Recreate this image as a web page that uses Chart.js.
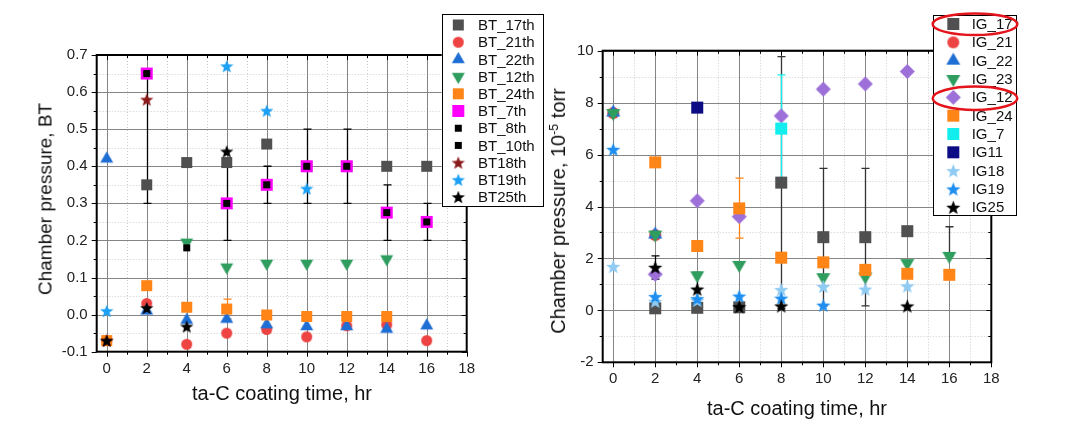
<!DOCTYPE html>
<html><head><meta charset="utf-8">
<script src="https://cdn.jsdelivr.net/npm/chart.js@4.4.1/dist/chart.umd.min.js"></script>
<style>
html,body{margin:0;padding:0;background:#fff;}
body{width:1074px;height:438px;overflow:hidden;position:relative;font-family:"Liberation Sans",Arial,sans-serif;}
canvas{position:absolute;top:0;}
#c1{left:0;width:550px;height:438px;}
#c2{left:550px;width:524px;height:438px;}
.t{position:absolute;white-space:nowrap;color:#111;transform:translate(-50%,-50%);line-height:1;}
.r{transform:translate(-50%,-50%) rotate(-90deg);}
sup{font-size:0.62em;vertical-align:0.55em;line-height:0;}
</style></head><body>
<canvas id="c1" width="550" height="438"></canvas>
<canvas id="c2" width="524" height="438"></canvas>
<div class="t r" style="left:45px;top:199px;font-size:19px;">Chamber pressure, BT</div>
<div class="t" style="left:282px;top:393px;font-size:20px;">ta-C coating time, hr</div>
<div class="t r" style="left:558px;top:211px;font-size:20px;">Chamber pressure, 10<sup>-5</sup> torr</div>
<div class="t" style="left:797px;top:408px;font-size:20px;">ta-C coating time, hr</div>
<script>
// ---------- data ----------
const hours = [0, 2, 4, 6, 8, 10, 12, 14, 16];
const xTickLabels = [0, 2, 4, 6, 8, 10, 12, 14, 16, 18];
const btYTickLabels = [-0.1, 0.0, 0.1, 0.2, 0.3, 0.4, 0.5, 0.6, 0.7];
const igYTickLabels = [-2, 0, 2, 4, 6, 8, 10];

// left panel (BT)
const bt17 = [null, 0.35, 0.41, 0.41, 0.46, 0.40, 0.40, 0.40, 0.40];
const bt21 = [-0.07, 0.03, -0.08, -0.05, -0.04, -0.06, -0.03, -0.027, -0.07];
const bt22 = [0.42, 0.01, -0.015, -0.012, -0.027, -0.032, -0.032, -0.039, -0.03];
const bt12 = [null, null, 0.195, 0.128, 0.138, 0.138, 0.138, 0.15, null];
const bt24 = [-0.07, 0.078, 0.02, 0.015, -0.001, -0.005, -0.005, -0.005, null];
const bt7 = [null, 0.65, null, 0.30, 0.35, 0.40, 0.40, 0.275, 0.25];
const bt8 = [null, 0.65, null, 0.30, 0.35, 0.40, 0.40, 0.275, 0.25];
const bt10 = [null, null, 0.18, null, null, null, null, null, null];
const bt18 = [-0.07, 0.58, null, null, null, null, null, null, null];
const bt19 = [0.01, null, null, 0.67, 0.55, 0.34, null, null, null];
const bt25 = [-0.07, 0.018, -0.032, 0.44, null, null, null, null, null];
const bt8Low  = [null, 0.30, null, 0.20, 0.30, 0.30, 0.30, 0.20, 0.20];
const bt8High = [null, 0.65, null, 0.40, 0.40, 0.50, 0.50, 0.35, 0.30];
const bt24Low  = [null, null, null, -0.012, null, null, null, null, null];
const bt24High = [null, null, null, 0.042, null, null, null, null, null];

// right panel (IG)
const ig17 = [null, 0.08, 0.1, 0.12, 4.92, 2.82, 2.82, 3.05, null];
const ig21 = [7.6, 2.9, null, null, null, null, null, null, null];
const ig22 = [7.62, 2.92, null, null, null, null, null, null, null];
const ig23 = [7.6, 2.92, 1.35, 1.75, null, 1.28, 1.3, 1.82, 2.1];
const ig12 = [null, 1.39, 4.22, 3.61, 7.49, 8.52, 8.72, 9.2, null];
const ig24 = [null, 5.7, 2.48, 3.93, 2.03, 1.85, 1.56, 1.41, 1.37];
const ig7  = [null, null, null, null, 7.0, null, null, null, null];
const ig11 = [null, null, 7.81, null, null, null, null, null, null];
const ig18 = [1.69, 0.35, 0.38, null, 0.8, 0.92, 0.82, 0.94, null];
const ig19 = [6.2, 0.53, 0.45, 0.55, 0.47, 0.2, null, null, null];
const ig25 = [null, 1.66, 0.82, 0.14, 0.17, null, null, 0.17, null];
const ig17Low  = [null, null, null, null, 0.07, 0.17, 0.17, null, null];
const ig17High = [null, null, null, null, 9.77, 5.47, 5.47, null, null];
const ig24Low  = [null, null, null, 2.78, null, null, null, null, null];
const ig24High = [null, null, null, 5.09, null, null, null, null, null];
const ig7Low   = [null, null, null, null, 4.92, null, null, null, null];
const ig7High  = [null, null, null, null, 9.07, null, null, null, null];
const ig25Low  = [null, 1.2, 0.17, null, null, null, null, null, null];
const ig25High = [null, 2.1, 1.46, null, null, null, null, null, null];
const ig23Low  = [null, null, null, null, null, null, null, null, 2.1];
const ig23High = [null, null, null, null, null, null, null, null, 3.22];

// ---------- markers ----------
const FONT = '"Liberation Sans", Arial, sans-serif';
function starPath(g, cx, cy, R, r) {
  g.beginPath();
  for (let k = 0; k < 10; k++) {
    const a = -Math.PI / 2 + k * Math.PI / 5, rad = k % 2 ? r : R;
    g.lineTo(cx + rad * Math.cos(a), cy + rad * Math.sin(a));
  }
  g.closePath();
}
function mk(shape, color, s) {
  const W = Math.ceil(s + 4), c = document.createElement('canvas');
  c.width = W; c.height = W;
  const g = c.getContext('2d'), m = W / 2;
  g.fillStyle = color;
  const h = s * 0.866;
  switch (shape) {
    case 'square': g.fillRect(m - s / 2, m - s / 2, s, s); break;
    case 'circle': g.beginPath(); g.arc(m, m, s / 2, 0, Math.PI * 2); g.fill(); break;
    case 'tri': g.beginPath(); g.moveTo(m, m - h * 2 / 3); g.lineTo(m + s / 2, m + h / 3); g.lineTo(m - s / 2, m + h / 3); g.closePath(); g.fill(); break;
    case 'tridown': g.beginPath(); g.moveTo(m, m + h * 2 / 3); g.lineTo(m + s / 2, m - h / 3); g.lineTo(m - s / 2, m - h / 3); g.closePath(); g.fill(); break;
    case 'diamond': g.beginPath(); g.moveTo(m, m - s / 2); g.lineTo(m + s / 2, m); g.lineTo(m, m + s / 2); g.lineTo(m - s / 2, m); g.closePath(); g.fill(); break;
    case 'star': starPath(g, m, m + s * 0.05, s / 2, s / 2 * 0.42); g.fill(); break;
  }
  return c;
}

const btSeries = [
  {name: 'BT_17th', values: bt17, img: mk('square', '#505050', 11)},
  {name: 'BT_21th', values: bt21, img: mk('circle', '#EE4343', 11)},
  {name: 'BT_22th', values: bt22, img: mk('tri', '#1F6ED4', 13)},
  {name: 'BT_12th', values: bt12, img: mk('tridown', '#2F9D5E', 13)},
  {name: 'BT_24th', values: bt24, img: mk('square', '#FF8516', 11)},
  {name: 'BT_7th', values: bt7, img: mk('square', '#FF00FF', 12)},
  {name: 'BT_8th', values: bt8, img: mk('square', '#000000', 7)},
  {name: 'BT_10th', values: bt10, img: mk('square', '#000000', 7)},
  {name: 'BT18th', values: bt18, img: mk('star', '#8B1A1A', 14)},
  {name: 'BT19th', values: bt19, img: mk('star', '#1AA0F5', 14)},
  {name: 'BT25th', values: bt25, img: mk('star', '#000000', 14)}
];
const igSeries = [
  {name: 'IG_17', values: ig17, img: mk('square', '#505050', 12)},
  {name: 'IG_21', values: ig21, img: mk('circle', '#EE4343', 12)},
  {name: 'IG_22', values: ig22, img: mk('tri', '#1F6ED4', 14)},
  {name: 'IG_23', values: ig23, img: mk('tridown', '#2F9D5E', 14)},
  {name: 'IG_12', values: ig12, img: mk('diamond', '#9D6FD8', 15)},
  {name: 'IG_24', values: ig24, img: mk('square', '#FF8516', 12)},
  {name: 'IG_7', values: ig7, img: mk('square', '#12EEEE', 12)},
  {name: 'IG11', values: ig11, img: mk('square', '#0B0B84', 12)},
  {name: 'IG18', values: ig18, img: mk('star', '#8FCBF2', 15)},
  {name: 'IG19', values: ig19, img: mk('star', '#1E8FF0', 15)},
  {name: 'IG25', values: ig25, img: mk('star', '#000000', 15)}
];

function range(a, b, st) { const r = []; for (let v = a; v <= b + 1e-9; v += st) r.push(+v.toFixed(4)); return r; }

function decor(o) {
  return {
    id: 'decor',
    beforeDatasetsDraw(ch) {
      const c = ch.ctx, a = ch.chartArea, X = ch.scales.x, Y = ch.scales.y;
      c.save();
      c.beginPath(); c.rect(a.left, a.top, a.right - a.left, a.bottom - a.top); c.clip();
      c.lineWidth = 1;
      const vl = v => { const p = Math.round(X.getPixelForValue(v)) + 0.5; c.beginPath(); c.moveTo(p, a.top); c.lineTo(p, a.bottom); c.stroke(); };
      const hl = v => { const p = Math.round(Y.getPixelForValue(v)) + 0.5; c.beginPath(); c.moveTo(a.left, p); c.lineTo(a.right, p); c.stroke(); };
      c.strokeStyle = '#cdcdcd'; c.setLineDash([1, 2]);
      o.xMinor.forEach(vl); o.yMinor.forEach(hl);
      c.setLineDash([]); c.strokeStyle = '#858585';
      xTickLabels.forEach(vl); o.yTicks.forEach(hl);
      c.restore();
      c.save();
      o.errs.forEach(e => {
        c.strokeStyle = e.color; c.lineWidth = 1.3;
        hours.forEach((hv, k) => {
          if (e.low[k] == null) return;
          const px = Math.round(X.getPixelForValue(hv)) + 0.5;
          const p1 = Y.getPixelForValue(e.low[k]), p2 = Y.getPixelForValue(e.high[k]);
          c.beginPath(); c.moveTo(px, p1); c.lineTo(px, p2);
          c.moveTo(px - 4, p1); c.lineTo(px + 4, p1);
          c.moveTo(px - 4, p2); c.lineTo(px + 4, p2);
          c.stroke();
        });
      });
      c.restore();
    },
    afterDatasetsDraw(ch) {
      const c = ch.ctx, a = ch.chartArea, X = ch.scales.x, Y = ch.scales.y;
      c.save();
      c.strokeStyle = '#000'; c.lineWidth = 1;
      c.beginPath();
      const xmaj = xTickLabels, xmin = o.xMinor;
      xmaj.forEach(v => { const p = Math.round(X.getPixelForValue(v)) + 0.5;
        c.moveTo(p, a.bottom); c.lineTo(p, a.bottom + 5); c.moveTo(p, a.top); c.lineTo(p, a.top + 5); });
      xmin.forEach(v => { const p = Math.round(X.getPixelForValue(v)) + 0.5;
        c.moveTo(p, a.bottom); c.lineTo(p, a.bottom + 3); c.moveTo(p, a.top); c.lineTo(p, a.top + 3); });
      o.yTicks.forEach(v => { const p = Math.round(Y.getPixelForValue(v)) + 0.5;
        c.moveTo(a.left, p); c.lineTo(a.left - 5, p); c.moveTo(a.right, p); c.lineTo(a.right - 5, p); });
      o.yMinor.forEach(v => { const p = Math.round(Y.getPixelForValue(v)) + 0.5;
        c.moveTo(a.left, p); c.lineTo(a.left - 3, p); c.moveTo(a.right, p); c.lineTo(a.right - 3, p); });
      c.stroke();
      c.lineWidth = 2;
      c.strokeRect(a.left, a.top, a.right - a.left, a.bottom - a.top);
      c.restore();
    },
    afterDraw(ch) {
      const c = ch.ctx, L = o.legend;
      c.save();
      c.fillStyle = '#fff';
      c.fillRect(L.x0, L.y0, L.x1 - L.x0, L.y1 - L.y0);
      c.strokeStyle = '#000'; c.lineWidth = 1;
      c.strokeRect(Math.round(L.x0) + 0.5, Math.round(L.y0) + 0.5, Math.round(L.x1 - L.x0), Math.round(L.y1 - L.y0));
      c.font = '15px ' + FONT; c.textBaseline = 'middle'; c.fillStyle = '#111';
      o.series.forEach((s, i) => {
        const y = L.rowY + i * L.dy;
        c.drawImage(s.img, L.mx - s.img.width / 2, y - s.img.height / 2);
        c.fillText(s.name, L.tx, y + 1);
      });
      if (L.ellipses) {
        c.strokeStyle = '#E3141B'; c.lineWidth = 2.5;
        L.ellipses.forEach(e => { c.beginPath(); c.ellipse(e[0], e[1], e[2], e[3], 0, 0, Math.PI * 2); c.stroke(); });
      }
      c.restore();
    }
  };
}

function makeChart(id, o) {
  const datasets = o.series.map((s, i) => ({
    label: s.name,
    data: hours.map((x, k) => s.values[k] == null ? null : {x: x, y: s.values[k]}).filter(p => p),
    pointStyle: s.img, pointRadius: 6, pointHoverRadius: 6,
    showLine: false, order: -i
  }));
  return new Chart(document.getElementById(id), {
    type: 'scatter',
    data: {datasets},
    options: {
      responsive: false, animation: false, events: [],
      layout: {padding: {left: 0, top: o.area.top, right: o.W - o.area.right, bottom: 0}},
      plugins: {legend: {display: false}, tooltip: {enabled: false}},
      scales: {
        x: {
          type: 'linear', min: -0.5, max: 18,
          grid: {display: false, drawTicks: false}, border: {display: false},
          afterFit: s => { s.height = o.H - o.area.bottom; },
          afterBuildTicks: s => { s.ticks = xTickLabels.map(v => ({value: v})); },
          ticks: {padding: o.xPad, color: '#222', font: {family: FONT, size: 15}, maxRotation: 0, autoSkip: false,
                  callback: v => String(v)}
        },
        y: {
          type: 'linear', min: o.yMin, max: o.yMax,
          grid: {display: false, drawTicks: false}, border: {display: false},
          afterFit: s => { s.width = o.area.left; },
          afterBuildTicks: s => { s.ticks = o.yTicks.map(v => ({value: v})); },
          ticks: {padding: o.yPad, color: '#222', font: {family: FONT, size: 15}, autoSkip: false,
                  callback: o.yFmt}
        }
      }
    },
    plugins: [decor(o)]
  });
}

makeChart('c1', {
  W: 550, H: 438,
  area: {left: 96.7, right: 466.7, top: 55, bottom: 351.7},
  yMin: -0.1, yMax: 0.7, yTicks: btYTickLabels, yMinor: range(-0.05, 0.65, 0.1), xMinor: range(1, 17, 2),
  yFmt: v => v.toFixed(1), xPad: 8, yPad: 9,
  series: btSeries,
  errs: [
    {low: bt8Low, high: bt8High, color: '#000'},
    {low: bt24Low, high: bt24High, color: '#FF8516'}
  ],
  legend: {x0: 441.7, y0: 14, x1: 543, y1: 206, rowY: 25, dy: 17.2, mx: 458.3, tx: 478}
});

makeChart('c2', {
  W: 524, H: 438,
  area: {left: 52.7, right: 441.3, top: 50.7, bottom: 362.3},
  yMin: -2, yMax: 10, yTicks: igYTickLabels, yMinor: range(-1, 9, 2), xMinor: range(1, 17, 2),
  yFmt: v => String(v), xPad: 8, yPad: 9,
  series: igSeries,
  errs: [
    {low: ig17Low, high: ig17High, color: '#333'},
    {low: ig23Low, high: ig23High, color: '#333'},
    {low: ig24Low, high: ig24High, color: '#FF8516'},
    {low: ig7Low, high: ig7High, color: '#12EEEE'},
    {low: ig25Low, high: ig25High, color: '#000'}
  ],
  legend: {x0: 383.3, y0: 15, x1: 466, y1: 215, rowY: 24, dy: 18.33, mx: 403.3, tx: 421.7,
           ellipses: [[425, 24.2, 42.3, 10.8], [425, 98.3, 42.3, 11.7]]}
});
</script>
</body></html>
